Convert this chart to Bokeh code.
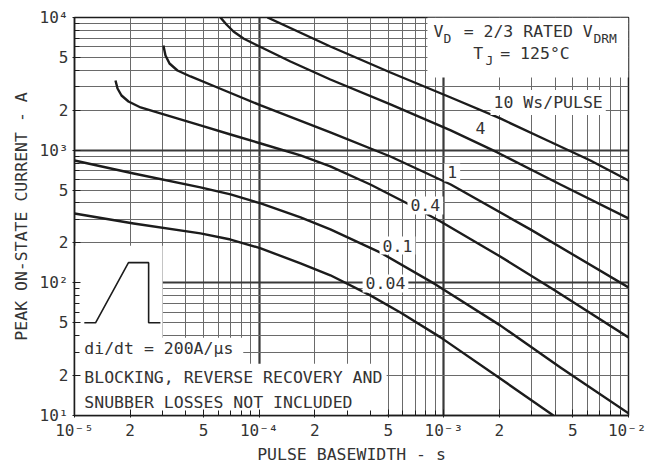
from bokeh.plotting import figure
from bokeh.models import FixedTicker, Label
from bokeh.embed import file_html
from bokeh.resources import INLINE

# ---- data (pulse basewidth s, peak current A) ----
x_10 = [1.109e-4, 2.43e-4, 5.14e-4, 1.09e-3, 2.02e-3, 3.64e-3, 6.22e-3, 1.0e-2]
y_10 = [10000, 6046, 3851, 2495, 1734, 1183, 836, 591]

x_4 = [6.17e-5, 6.65e-5, 7.26e-5, 8.22e-5, 9.55e-5, 1.477e-4, 2.43e-4, 5.14e-4,
       1.09e-3, 1.95e-3, 4.28e-3, 1.0e-2]
y_4 = [10000, 8857, 7844, 6946, 6259, 4660, 3410, 2210, 1408, 961, 551, 306]

x_1 = [3.03e-5, 3.11e-5, 3.27e-5, 3.61e-5, 4.25e-5, 5.94e-5, 1.02e-4, 2.43e-4,
       5.14e-4, 1.09e-3, 2.94e-3, 1.0e-2]
y_1 = [6150, 5172, 4502, 3987, 3593, 2968, 2172, 1359, 896, 551, 253, 92.3]

x_04 = [1.667e-5, 1.71e-5, 1.797e-5, 1.96e-5, 2.28e-5, 2.92e-5, 4.81e-5, 7.0e-5,
        1.02e-4, 1.675e-4, 2.43e-4, 4.0e-4, 6.35e-4, 9.6e-4, 2.02e-3, 3.92e-3, 1.0e-2]
y_04 = [3351, 2917, 2584, 2328, 2098, 1891, 1536, 1313, 1123, 912, 754, 551, 396,
        290, 158, 89.2, 38.8]

x_01 = [1.0e-5, 2.09e-5, 4.81e-5, 7.0e-5, 1.02e-4, 1.675e-4, 2.43e-4, 4.54e-4,
        9.02e-4, 2.02e-3, 4.28e-3, 1.0e-2]
y_01 = [836, 667, 524, 464, 397, 311, 253, 169, 97.3, 47.8, 23.0, 10.4]

x_004 = [1.0e-5, 2.09e-5, 4.81e-5, 7.0e-5, 1.02e-4, 1.675e-4, 2.43e-4, 4.0e-4,
         5.82e-4, 9.6e-4, 2.02e-3, 3.92e-3]
y_004 = [333, 280, 236, 212, 182, 140, 114, 80.4, 59.8, 38.8, 19.0, 10]

curve_x = [x_10, x_4, x_1, x_04, x_01, x_004]
curve_y = [y_10, y_4, y_1, y_04, y_01, y_004]
curve_names = ["10 Ws/PULSE", "4", "1", "0.4", "0.1", "0.04"]
curve_label_x = [1.79e-3, 1.58e-3, 1.11e-3, 7.94e-4, 5.61e-4, 4.83e-4]
curve_label_y = [2286, 1459, 679, 383, 191, 99]

# inset pulse-shape sketch
pulse_x = [1.13e-5, 1.30e-5, 1.96e-5, 2.52e-5, 2.52e-5, 2.92e-5]
pulse_y = [50, 50, 142, 142, 50, 50]

x_ticks = [1e-5, 2e-5, 5e-5, 1e-4, 2e-4, 5e-4, 1e-3, 2e-3, 5e-3, 1e-2]
x_tick_labels = ["10⁻⁵", "2", "5", "10⁻⁴", "2", "5", "10⁻³", "2", "5", "10⁻²"]
y_ticks = [10, 20, 50, 100, 200, 500, 1000, 2000, 5000, 10000]
y_tick_labels = ["10¹", "2", "5", "10²", "2", "5", "10³", "2", "5", "10⁴"]

FONT = "DejaVu Sans Mono"
FS = "16.5px"
INK = "#1c1c1c"

p = figure(x_axis_type="log", y_axis_type="log",
           x_range=(1e-5, 1e-2), y_range=(10, 1e4),
           frame_width=554, frame_height=398,
           min_border_left=74, min_border_top=17, min_border_right=18, min_border_bottom=38,
           output_backend="svg", toolbar_location=None)
p.background_fill_color = "white"
p.border_fill_color = "white"
p.outline_line_color = INK
p.outline_line_width = 1.5

minor_x = [m * 10.0 ** e for e in range(-5, -2) for m in range(2, 10)]
minor_y = [m * 10.0 ** e for e in range(1, 4) for m in range(2, 10)]

p.xgrid.ticker = FixedTicker(ticks=[1e-5, 1e-4, 1e-3, 1e-2], minor_ticks=minor_x)
p.ygrid.ticker = FixedTicker(ticks=[10, 100, 1000, 10000], minor_ticks=minor_y)
for g in (p.xgrid, p.ygrid):
    g.grid_line_color = "#3a3a3a"
    g.grid_line_width = 2.2
    g.minor_grid_line_color = "#6a6a6a"
    g.minor_grid_line_width = 1

p.xaxis.ticker = FixedTicker(ticks=x_ticks, minor_ticks=minor_x)
p.yaxis.ticker = FixedTicker(ticks=y_ticks, minor_ticks=minor_y)
p.xaxis.major_label_overrides = dict(zip(x_ticks, x_tick_labels))
p.yaxis.major_label_overrides = dict(zip(y_ticks, y_tick_labels))
p.xaxis.axis_label = "PULSE BASEWIDTH - s"
p.yaxis.axis_label = "PEAK ON-STATE CURRENT - A"
for ax in (p.xaxis, p.yaxis):
    ax.axis_line_color = INK
    ax.axis_line_width = 1.5
    ax.major_tick_line_color = INK
    ax.minor_tick_line_color = INK
    ax.major_tick_in = 6
    ax.major_tick_out = 2
    ax.minor_tick_in = 5
    ax.minor_tick_out = 0
    ax.major_label_text_font = FONT
    ax.major_label_text_font_size = "16px"
    ax.major_label_text_color = "#333"
    ax.axis_label_text_font = FONT
    ax.axis_label_text_font_size = FS
    ax.axis_label_text_font_style = "normal"
    ax.axis_label_text_color = "#333"
p.xaxis.major_label_standoff = 3
p.xaxis.axis_label_standoff = 2
p.yaxis.major_label_standoff = 4
p.yaxis.axis_label_standoff = 6

# blank (unruled) areas of the graph paper
p.quad(left=[1e-5], right=[3e-5], bottom=[10], top=[190], fill_color="white", line_color=None)
p.quad(left=[1e-5], right=[4.9e-4], bottom=[10], top=[24.5], fill_color="white", line_color=None)
p.quad(left=[1e-5], right=[8.2e-5], bottom=[24], top=[38.5], fill_color="white", line_color=None)
p.quad(left=[8.15e-4], right=[1e-2], bottom=[3530], top=[1e4], fill_color="white", line_color=None)

for xs, ys in zip(curve_x, curve_y):
    p.line(xs, ys, line_color=INK, line_width=2.4, line_join="round")

p.line(pulse_x, pulse_y, line_color=INK, line_width=1.6)

for name, lx, ly in zip(curve_names, curve_label_x, curve_label_y):
    align = "left" if name.startswith("10") else "center"
    p.add_layout(Label(x=lx, y=ly, text=name, text_align=align, text_baseline="middle",
                       text_font=FONT, text_font_size=FS, text_color="#333",
                       background_fill_color="white", padding=3))

def txt(x, y, s, size=FS, align="left"):
    p.add_layout(Label(x=x, y=y, text=s, text_align=align, text_baseline="middle",
                       text_font=FONT, text_font_size=size, text_color="#333"))

# conditions box (top right)
txt(8.8e-4, 7830, "V")
txt(9.96e-4, 6950, "D", size="13px")
txt(1.28e-3, 7830, "= 2/3 RATED V")
txt(6.46e-3, 6950, "DRM", size="13px")
txt(1.445e-3, 5355, "T")
txt(1.68e-3, 4745, "J", size="13px")
txt(2.02e-3, 5355, "= 125°C")

# notes (bottom left)
txt(1.13e-5, 32.1, "di/dt = 200A/µs")
txt(1.13e-5, 19.4, "BLOCKING, REVERSE RECOVERY AND")
txt(1.13e-5, 12.6, "SNUBBER LOSSES NOT INCLUDED")

open("out.html", "w").write(file_html(p, INLINE))
